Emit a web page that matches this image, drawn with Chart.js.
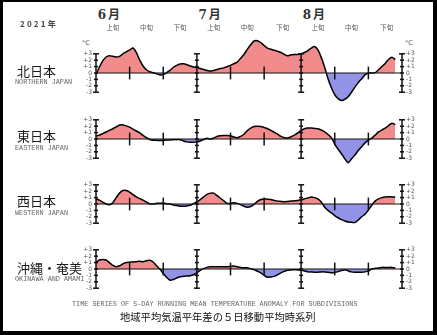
<!DOCTYPE html>
<html>
<head>
<meta charset="utf-8">
<script src="https://cdn.jsdelivr.net/npm/chart.js@4"></script>
<style>
  html, body { margin: 0; padding: 0; background: #000; }
  body { width: 437px; height: 335px; position: relative; overflow: hidden; }
  #frame { position: absolute; left: 3px; top: 2px; width: 430px; height: 329px; background: #fff; }
  canvas.panel { position: absolute; left: 0; }
  .t { position: absolute; white-space: nowrap; line-height: 1; transform: translate(-50%, -50%); }
  .l { transform: translate(0, -50%); }
  .jp { font-family: "Noto Sans CJK JP", sans-serif; color: #1a1a1a; }
  .en { font-family: "Liberation Mono", monospace; color: #666; font-size: 6.8px; }
  .region { font-size: 13px; }
  .month { font-size: 12px; font-weight: bold; color: #333; letter-spacing: 2px; font-family: "DejaVu Serif", "Noto Sans CJK JP", serif; }
  .dekad { font-size: 6.5px; color: #555; }
  .unit { font-family: "DejaVu Sans", sans-serif; font-size: 6.5px; color: #555; }
</style>
</head>
<body>
<div id="frame"></div>

<script>
// Months shown and their lengths (June–August 2021)
const months = ['6月', '7月', '8月'];
const monthLengths = [30, 31, 31];
const dekadNames = ['上旬', '中旬', '下旬'];
const yTicks = [-3, -2, -1, 0, 1, 2, 3];

const regionNames = ['北日本', '東日本', '西日本', '沖縄・奄美'];
const regionNamesEn = ['NORTHERN JAPAN', 'EASTERN JAPAN', 'WESTERN JAPAN', 'OKINAWA AND AMAMI'];

// 5-day running mean temperature anomaly (°C), June 1 – August 30
const northJapan = [
  -0.2, 0.9, 1.9, 2.5, 2.7, 2.6, 2.5, 2.6, 3.0, 3.3,
  3.6, 3.9, 3.2, 2.0, 1.1, 0.5, 0.2, 0.05, -0.1, -0.3,
  -0.25, 0.05, 0.4, 0.9, 1.2, 1.4, 1.45, 1.3, 1.1, 0.95,
  0.85, 0.7, 0.55, 0.4, 0.3, 0.4, 0.55, 0.7, 0.8, 1.0,
  1.2, 1.45, 1.7, 2.3, 2.9, 3.7, 4.4, 5.0, 5.05, 4.75,
  4.3, 3.9, 3.7, 3.55, 3.4, 3.2, 2.9, 2.7, 2.85, 2.9,
  2.9, 3.0, 3.2, 3.5, 3.9, 4.15, 3.6, 2.4, 0.9, -0.9,
  -2.3, -3.4, -4.0, -4.3, -4.1, -3.7, -3.0, -2.2, -1.5, -0.9,
  -0.3, 0.0, 0.0, 0.05, 0.5, 1.0, 1.5, 2.1, 2.45, 2.1
];
const eastJapan = [
  0.45, 0.6, 0.85, 1.1, 1.35, 1.6, 1.9, 2.2, 2.2, 2.05,
  1.85, 1.55, 1.25, 0.95, 0.55, 0.2, -0.1, -0.2, -0.2, -0.25,
  -0.2, -0.15, -0.15, -0.1, -0.1, -0.1, -0.3, -0.45, -0.5, -0.5,
  -0.45, -0.3, -0.1, 0.1, 0.0, 0.15, 0.4, 0.5, 0.55, 0.55,
  0.5, 0.3, 0.2, 0.4, 0.75, 1.3, 1.7, 1.95, 2.0, 1.95,
  1.8, 1.6, 1.35, 1.05, 0.75, 0.4, 0.2, 0.15, 0.35, 0.6,
  0.95, 1.35, 1.6, 1.7, 1.7, 1.65, 1.6, 1.4, 1.1, 0.7,
  0.2, -0.8, -1.6, -2.3, -3.1, -3.7, -3.1, -2.5, -1.8, -1.2,
  -0.6, -0.2, 0.15, 0.6, 1.1, 1.4, 1.7, 2.1, 2.45, 2.25
];
const westJapan = [
  0.8, 0.6, 0.3, 0.0, -0.1, 0.2, 1.0, 1.7, 2.1, 2.1,
  1.85, 1.45, 1.1, 0.85, 0.6, 0.3, 0.0, 0.0, 0.1, 0.1,
  0.15, 0.05, 0.0, -0.15, -0.25, -0.35, -0.35, -0.3, -0.2, 0.05,
  0.35, 0.7, 1.1, 1.5, 1.7, 1.7, 1.3, 0.9, 0.5, 0.1,
  0.1, 0.2, 0.1, -0.1, -0.35, -0.5, -0.4, -0.05, 0.4, 0.7,
  0.8, 0.75, 0.7, 0.55, 0.45, 0.4, 0.35, 0.4, 0.45, 0.5,
  0.55, 0.65, 0.8, 0.95, 1.1, 1.0, 0.8, 0.3, -0.5, -1.0,
  -1.4, -1.8, -2.15, -2.45, -2.65, -2.8, -2.85, -2.9, -2.5, -2.0,
  -1.6, -0.95, -0.2, 0.45, 0.8, 1.0, 1.1, 1.15, 1.1, 1.1
];
const okinawaAmami = [
  1.0, 1.4, 1.5, 1.4, 1.0, 0.55, 0.35, 0.5, 0.8, 1.0,
  1.05, 1.1, 1.15, 1.2, 1.15, 1.3, 1.35, 1.1, 0.5, 0.0,
  -0.7, -1.3, -1.75, -1.65, -1.4, -1.2, -1.15, -1.1, -1.05, -0.9,
  -0.6, -0.2, 0.05, 0.25, 0.35, 0.35, 0.35, 0.35, 0.35, 0.35,
  0.4, 0.45, 0.35, 0.25, 0.2, 0.2, 0.05, -0.1, -0.35, -0.6,
  -1.0, -1.3, -1.25, -1.15, -0.9, -0.6, -0.35, -0.2, -0.15, -0.1,
  -0.15, -0.2, -0.3, -0.45, -0.45, -0.5, -0.5, -0.45, -0.45, -0.5,
  -0.6, -0.55, -0.4, -0.25, -0.1, -0.3, -0.45, -0.5, -0.5, -0.5,
  -0.45, -0.3, 0.0, 0.1, 0.15, 0.25, 0.25, 0.25, 0.25, 0.15
];

const series = [northJapan, eastJapan, westJapan, okinawaAmami];

// Day labels for the category axis (6/1 … 8/31)
const dayLabels = [];
months.forEach((m, i) => {
  for (let d = 1; d <= monthLengths[i]; d++) dayLabels.push((i + 6) + '/' + d);
});

// Indices of month starts (plus the end) and of the dekad boundaries
const monthStarts = [0];
monthLengths.forEach(n => monthStarts.push(monthStarts[monthStarts.length - 1] + n));
monthStarts[monthStarts.length - 1] -= 1; // last day closes the axis
const dekadTicks = [];
const dekadEdges = [];
monthLengths.forEach((n, i) => {
  const s = monthStarts[i];
  dekadTicks.push(s + 10, s + 20);
  dekadEdges.push([s, s + 10], [s + 10, s + 20], [s + 20, s + n]);
});

const fmtTick = v => (v > 0 ? '+' + v : v < 0 ? '-' + Math.abs(v) : '0');

// Axis frames: vertical bars with integer ticks at month edges, short marks at dekads
const framePlugin = {
  id: 'frame',
  afterDatasetsDraw(chart) {
    const ctx = chart.ctx;
    const x = chart.scales.x, y = chart.scales.y;
    const y0 = y.getPixelForValue(0);
    ctx.save();
    ctx.strokeStyle = '#111';
    ctx.lineWidth = 1;
    ctx.beginPath();
    ctx.moveTo(chart.chartArea.left, y0);
    ctx.lineTo(chart.chartArea.right, y0);
    ctx.stroke();

    ctx.lineWidth = 1.5;
    monthStarts.forEach(i => {
      const px = x.getPixelForValue(i);
      ctx.beginPath();
      ctx.moveTo(px, y.getPixelForValue(3));
      ctx.lineTo(px, y.getPixelForValue(-3));
      ctx.stroke();
      yTicks.forEach(v => {
        const py = y.getPixelForValue(v);
        const w = Math.abs(v) === 3 ? 3 : 2;
        ctx.beginPath();
        ctx.moveTo(px - w, py);
        ctx.lineTo(px + w, py);
        ctx.stroke();
      });
    });
    dekadTicks.forEach(i => {
      const px = x.getPixelForValue(i);
      ctx.beginPath();
      ctx.moveTo(px, y.getPixelForValue(1));
      ctx.lineTo(px, y.getPixelForValue(-1));
      ctx.stroke();
    });
    ctx.restore();
  }
};

const sideAxis = position => ({
  position,
  min: -6, max: 6,
  afterFit(s) { s.width = 20; },
  afterBuildTicks(s) { s.ticks = yTicks.map(v => ({ value: v })); },
  grid: { display: false, drawTicks: false },
  border: { display: false },
  ticks: {
    padding: 4,
    autoSkip: false,
    color: '#555',
    font: { family: 'DejaVu Sans', size: 6 },
    callback: v => fmtTick(v)
  }
});

// Zero line of each panel sits 46 px below the canvas top
const panelTops = [27, 93, 158, 223];
const charts = [];

series.forEach((values, k) => {
  const cv = document.createElement('canvas');
  cv.className = 'panel';
  cv.width = 437; cv.height = 92;
  cv.style.top = panelTops[k] + 'px';
  cv.style.width = '437px'; cv.style.height = '92px';
  document.body.appendChild(cv);

  charts.push(new Chart(cv, {
    type: 'line',
    data: {
      labels: dayLabels,
      datasets: [{
        data: values,
        borderColor: '#000',
        borderWidth: 1.5,
        pointRadius: 0,
        tension: 0.25,
        fill: { target: { value: 0 }, above: '#f28c8c', below: '#9292e6' }
      }]
    },
    options: {
      responsive: false,
      animation: false,
      devicePixelRatio: 1,
      layout: { padding: { left: 76, right: 15, top: 0, bottom: 0 } },
      plugins: { legend: { display: false }, tooltip: { enabled: false } },
      scales: {
        x: { type: 'category', display: false, offset: false },
        y: sideAxis('left'),
        y2: sideAxis('right')
      }
    },
    plugins: [framePlugin]
  }));
});

// Text around the panels
function addText(txt, cls, x, y, extra) {
  const d = document.createElement('div');
  d.className = 't ' + cls;
  d.textContent = txt;
  d.style.left = x + 'px';
  d.style.top = y + 'px';
  if (extra) Object.assign(d.style, extra);
  document.body.appendChild(d);
  return d;
}

const xs = charts[0].scales.x;
months.forEach((m, i) => {
  const e = dekadEdges[i * 3];
  addText(m, 'month', xs.getPixelForValue((e[0] + e[1]) / 2) - 3, 15);
});
dekadEdges.forEach((e, j) => {
  addText(dekadNames[j % 3], 'jp dekad', xs.getPixelForValue((e[0] + e[1]) / 2), 27);
});

addText('2021年', 'l jp', 20, 24, { fontSize: '8px', fontWeight: 'bold', letterSpacing: '2.2px', color: '#444' });
addText('°C', 'unit', 86, 42.5);
addText('°C', 'unit', 409, 42.5);

const nameY = [70, 135, 200, 267];
const nameEnY = [82, 148, 213, 279];
regionNames.forEach((n, k) => {
  addText(n, 'l jp region', 17, nameY[k]);
  addText(regionNamesEn[k], 'l en', 15, nameEnY[k]);
});

addText('TIME SERIES OF 5-DAY RUNNING MEAN TEMPERATURE ANOMALY FOR SUBDIVISIONS', 'l en', 72, 303.5);
addText('地域平均気温平年差の５日移動平均時系列', 'l jp', 120, 317, { fontSize: '10.3px', color: '#111' });
</script>
</body>
</html>
